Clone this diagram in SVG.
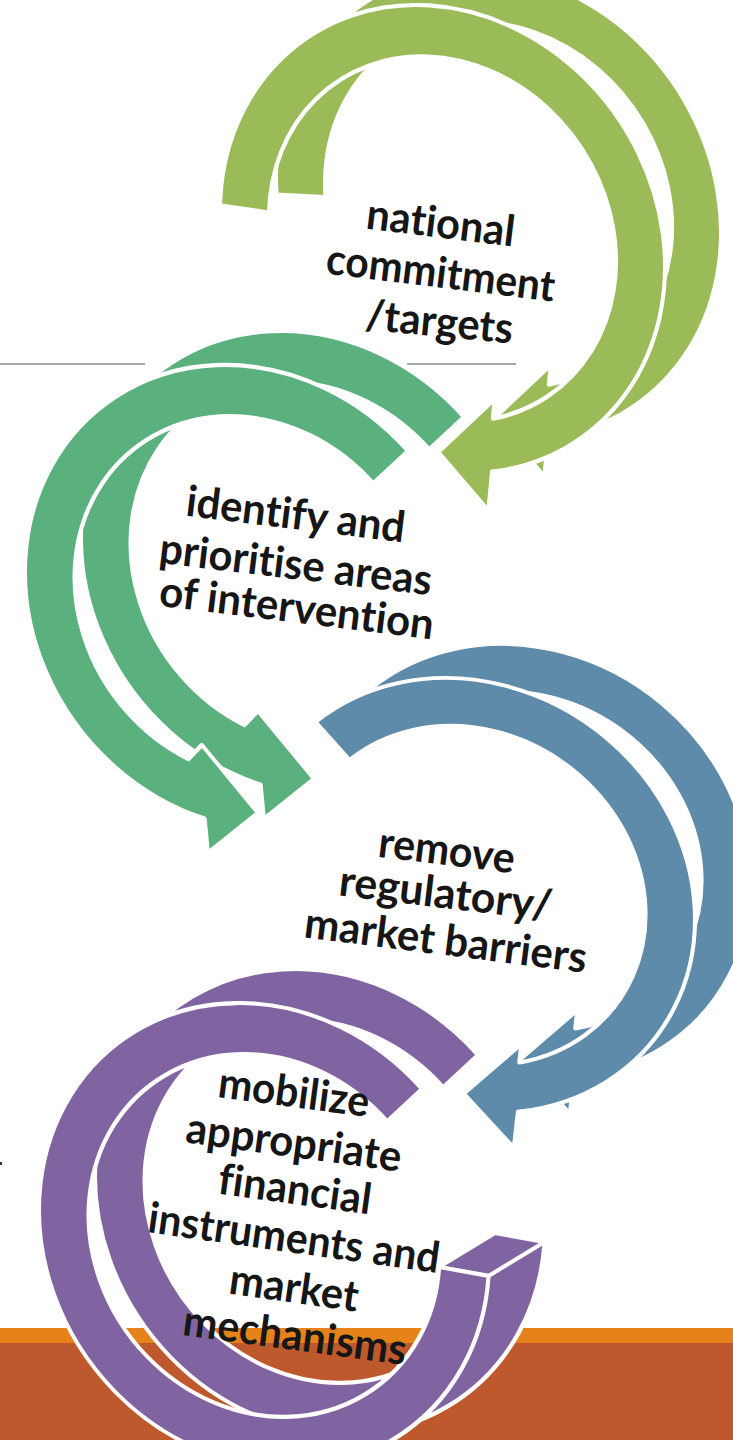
<svg xmlns="http://www.w3.org/2000/svg" xmlns:xlink="http://www.w3.org/1999/xlink" width="733" height="1440" viewBox="0 0 733 1440">
<style>
.arr{stroke:#fff;stroke-width:1.8;stroke-linejoin:round}
.g1{fill:#9BBB59}.g2{fill:#5BB17E}.g3{fill:#5F8BAA}.g4{fill:#8064A2}
.cap{stroke:#fff;stroke-width:4;stroke-linejoin:round}
.t{font-family:Lato,"Open Sans","Liberation Sans",sans-serif;font-weight:700;font-size:43px;fill:#161616;text-anchor:middle;font-variant-ligatures:none;font-feature-settings:"liga" 0,"clig" 0,"dlig" 0}
.rule{stroke:#8a8a8a;stroke-width:1.3;fill:none}
</style>
<defs>
<path id="p1" class="arr" transform="matrix(2.209 0 0.266 2.34 442.5 239)" d="M -98.95 -14.44 A 100 100 0 1 1 10.45 99.45 L 6.8 115.9 L -12.8 91 L 15.4 68.3 L 13.54 76.8 A 78 78 0 1 0 -77.18 -11.26 Z"/>
<path id="p1b" class="arr" transform="matrix(2.209 0 0.266 2.34 442.5 239)" d="M -99.9 -4.4 A 100 100 0 1 1 10.45 99.45 L 6.8 115.9 L -12.8 91 L 15.4 68.3 L 13.54 76.8 A 78 78 0 1 0 -77.9 -3.4 Z"/>
<path id="p2" class="arr" transform="matrix(2.236 0 0.25 2.325 250 597.5)" d="M 77.71 -62.93 A 100 100 0 1 0 -30.9 95.1 L -31.1 109.9 L -6.8 92.7 L -28.6 63.4 L -35.4 69.5 A 78 78 0 1 1 60.62 -49.09 Z"/>
<path id="p3" class="arr" transform="matrix(2.236 0 0.247 2.175 470 895.5)" d="M -60.18 -79.86 A 100 100 0 1 1 10.45 99.45 L 6.8 115.9 L -12.8 91 L 15.4 68.3 L 13.54 76.8 A 78 78 0 1 0 -46.94 -62.29 Z"/>
<path id="p4" class="arr" transform="matrix(2.236 0 0.25 2.325 264 1235.5)" d="M 77.71 -62.93 A 100 100 0 1 0 98.48 17.36 L 76.82 13.54 A 78 78 0 1 1 60.62 -49.09 Z"/>
</defs>
<rect width="733" height="1440" fill="#fff"/>
<g id="background">
<path class="rule" d="M0 364 H145 M407 364 H516"/>
<rect x="0" y="1328" width="733" height="15" fill="#E5831A"/>
<rect x="0" y="1343" width="733" height="97" fill="#BE592D"/>
<rect x="0" y="1162" width="2" height="3" fill="#333"/>
</g>
<g id="connectors"></g>
<g id="node1">
<use xlink:href="#p1b" href="#p1b" class="g1" transform="translate(56 -34)"/>
<use xlink:href="#p1" href="#p1" class="g1"/>
</g>
<g id="node2">
<use xlink:href="#p2" href="#p2" class="g2" transform="translate(56 -34)"/>
<use xlink:href="#p2" href="#p2" class="g2"/>
</g>
<g id="node3">
<use xlink:href="#p3" href="#p3" class="g3" transform="translate(56 -34)"/>
<use xlink:href="#p3" href="#p3" class="g3"/>
</g>
<g id="node4">
<use xlink:href="#p4" href="#p4" class="g4" transform="translate(56 -34)"/>
<polygon class="g4 cap" points="439,1267 488.5,1276 544.5,1242 495,1233"/>
<use xlink:href="#p4" href="#p4" class="g4"/>
</g>
<g id="labels">
<g id="label1">
<text class="t" transform="rotate(7 439 237.5)" x="439" y="237.5" textLength="149" lengthAdjust="spacingAndGlyphs">national</text>
<text class="t" transform="rotate(7 439 287.5)" x="439" y="287.5" textLength="230" lengthAdjust="spacingAndGlyphs">commitment</text>
<text class="t" transform="rotate(5.5 438 336.5)" x="438" y="336.5" textLength="148" lengthAdjust="spacingAndGlyphs">/targets</text>
</g>
<g id="label2">
<text class="t" transform="rotate(7 294 529)" x="294" y="529" textLength="220" lengthAdjust="spacingAndGlyphs">identify and</text>
<text class="t" transform="rotate(6.8 294 579)" x="294" y="579" textLength="274" lengthAdjust="spacingAndGlyphs">prioritise areas</text>
<text class="t" transform="rotate(7 295 622.5)" x="295" y="622.5" textLength="276" lengthAdjust="spacingAndGlyphs">of intervention</text>
</g>
<g id="label3">
<text class="t" transform="rotate(7 445 865)" x="445" y="865" textLength="137" lengthAdjust="spacingAndGlyphs">remove</text>
<text class="t" transform="rotate(6.8 444 908)" x="444" y="908" textLength="214" lengthAdjust="spacingAndGlyphs">regulatory/</text>
<text class="t" transform="rotate(7.2 444 955)" x="444" y="955" textLength="284" lengthAdjust="spacingAndGlyphs">market barriers</text>
</g>
<g id="label4">
<text class="t" transform="rotate(7.5 292 1107)" x="292" y="1107" textLength="152" lengthAdjust="spacingAndGlyphs">mobilize</text>
<text class="t" transform="rotate(7.8 292 1157)" x="292" y="1157" textLength="217" lengthAdjust="spacingAndGlyphs">appropriate</text>
<text class="t" transform="rotate(7.8 293 1204)" x="293" y="1204" textLength="154" lengthAdjust="spacingAndGlyphs">financial</text>
<text class="t" transform="rotate(8 292 1252.5)" x="292" y="1252.5" textLength="294" lengthAdjust="spacingAndGlyphs">instruments and</text>
<text class="t" transform="rotate(8 292 1302.5)" x="292" y="1302.5" textLength="130" lengthAdjust="spacingAndGlyphs">market</text>
<text class="t" transform="rotate(7.6 293 1350)" x="293" y="1350" textLength="225" lengthAdjust="spacingAndGlyphs">mechanisms</text>
</g>
</g>
</svg>
